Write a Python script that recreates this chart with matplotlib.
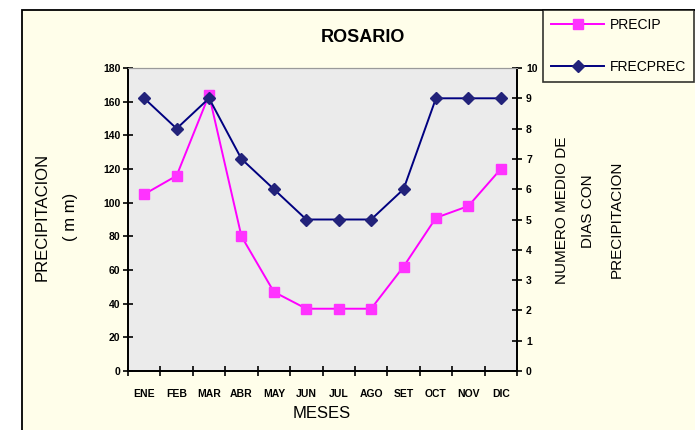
import matplotlib
matplotlib.use("Agg")
import matplotlib.pyplot as plt
import matplotlib.patches as patches
from matplotlib.lines import Line2D
import numpy as np

plt.rcParams['font.family'] = ['Liberation Sans', 'DejaVu Sans']

# data
meses = ["ENE", "FEB", "MAR", "ABR", "MAY", "JUN", "JUL", "AGO", "SET", "OCT", "NOV", "DIC"]
precip = [105, 116, 164, 80, 47, 37, 37, 37, 62, 91, 98, 120]
frecprec = [9, 8, 9, 7, 6, 5, 5, 5, 6, 9, 9, 9]

W, H = 695, 430
fig = plt.figure(figsize=(W / 100, H / 100), dpi=100)
fig.patch.set_facecolor("white")

# chart area frame (extends past right / bottom edge)
fig.patches.append(patches.Rectangle((22 / W, -0.05), 1.0, (H - 10) / H + 0.05,
                                     transform=fig.transFigure, facecolor="#FFFEEA",
                                     edgecolor="black", lw=1.3, zorder=-5))

ax = fig.add_axes([128 / W, (H - 371) / H, (517 - 128) / W, (371 - 68) / H])
ax.set_facecolor("#EBEBEB")
x = np.arange(len(meses))

p_style = dict(c="#FF00FF", lw=1.4, marker="s", ms=7, mfc="#FF33FF", mec="#FF33FF")
f_style = dict(c="#000080", lw=1.4, marker="D", ms=6, mfc="#22227A", mec="#22227A")

ax.plot(x, precip, zorder=3, **p_style)
ax.set_ylim(0, 180)
ax.set_yticks(np.arange(0, 181, 20))
ax.set_xlim(-0.5, 11.5)
ax.set_xticks(x)
ax.set_xticklabels(meses)
ax.set_xticks(np.arange(-0.5, 12, 1), minor=True)
ax.tick_params(axis="x", which="major", length=0, pad=13, labelsize=7.5)
ax.tick_params(axis="x", which="minor", direction="inout", length=7, width=1.2)
ax.tick_params(axis="y", direction="inout", length=7, width=1.2, labelsize=7.5, pad=2)
for lab in ax.get_xticklabels() + ax.get_yticklabels():
    lab.set_fontweight("bold")

ax2 = ax.twinx()
ax2.plot(x, frecprec, zorder=3, **f_style)
ax2.set_ylim(0, 10)
ax2.set_yticks(np.arange(0, 11, 1))
ax2.tick_params(axis="y", direction="inout", length=7, width=1.2, labelsize=7.5, pad=3)
for lab in ax2.get_yticklabels():
    lab.set_fontweight("bold")

for a in (ax, ax2):
    for s in ("left", "bottom", "right"):
        a.spines[s].set_color("black")
        a.spines[s].set_linewidth(1.3)
    a.spines["top"].set_color("#9A9A9A")
    a.spines["top"].set_linewidth(0.8)

# texts
fig.text(363 / W, (H - 37) / H, "ROSARIO", ha="center", va="center", fontsize=13, fontweight="bold")
fig.text(322 / W, (H - 413) / H, "MESES", ha="center", va="center", fontsize=12)
fig.text(42 / W, (H - 217) / H, "PRECIPITACION", rotation=90, ha="center", va="center", fontsize=12)
fig.text(70 / W, (H - 217) / H, "( m m)", rotation=90, ha="center", va="center", fontsize=12)
fig.text(562 / W, (H - 210) / H, "NUMERO MEDIO DE", rotation=90, ha="center", va="center", fontsize=11)
fig.text(588 / W, (H - 211) / H, "DIAS CON", rotation=90, ha="center", va="center", fontsize=11)
fig.text(617 / W, (H - 219) / H, "PRECIPITACION", rotation=90, ha="center", va="center", fontsize=11)

# legend
handles = [Line2D([], [], **p_style), Line2D([], [], **f_style)]
leg = fig.legend(handles, ["PRECIP", "FRECPREC"], loc="upper left",
                 bbox_to_anchor=(543 / W, (H - 10) / H), bbox_transform=fig.transFigure,
                 borderaxespad=0, frameon=True, fancybox=False, numpoints=1,
                 handlelength=3.8, handletextpad=0.4, labelspacing=2.0, borderpad=0.6,
                 fontsize=10)
leg.get_frame().set_edgecolor("black")
leg.get_frame().set_linewidth(1.2)
leg.get_frame().set_facecolor("#FFFEEA")

fig.savefig("out.png", dpi=100)
